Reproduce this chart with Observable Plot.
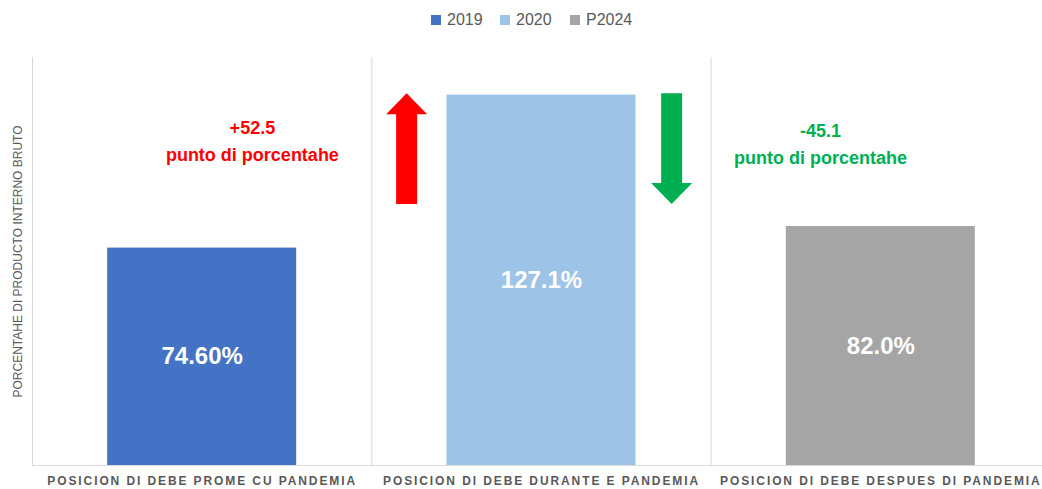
<!DOCTYPE html>
<html>
<head>
<meta charset="utf-8">
<script src="https://cdn.jsdelivr.net/npm/d3@7"></script>
<script src="https://cdn.jsdelivr.net/npm/@observablehq/plot@0.6"></script>
<style>
  html, body { margin: 0; padding: 0; background: #fff; overflow: hidden; }
  body { width: 1042px; height: 489px; font-family: "Liberation Sans", Arial, sans-serif; }
  #legend { position: relative; height: 40px; width: 1042px; }
  .item { position: absolute; top: 11px; display: flex; align-items: center; font-size: 16px; color: #595959; }
  .sw { width: 10px; height: 10px; margin-right: 6px; }
  g[aria-label="x-axis tick label"] text { letter-spacing: 1.9px; }
</style>
</head>
<body>
<div id="legend"></div>
<div id="chart"></div>
<script>
const categories = [
  "POSICION DI DEBE PROME CU PANDEMIA",
  "POSICION DI DEBE DURANTE E PANDEMIA",
  "POSICION DI DEBE DESPUES DI PANDEMIA"
];
const series = ["2019", "2020", "P2024"];
const values = [74.6, 127.1, 82.0];
const valueLabels = ["74.60%", "127.1%", "82.0%"];
const colors = ["#4472C4", "#9DC3E6", "#A5A5A5"];
const changeLabels = ["+52.5", "-45.1"];
const changeNote = "punto di porcentahe";
const changeColors = ["#FF0000", "#00B050"];
const yTitle = "PORCENTAHE DI PRODUCTO INTERNO BRUTO";

// legend
const legendLeft = [431, 500, 570];
const legend = document.getElementById("legend");
series.forEach((s, i) => {
  const d = document.createElement("div");
  d.className = "item";
  d.style.left = legendLeft[i] + "px";
  d.innerHTML = `<span class="sw" style="background:${colors[i]}"></span><span>${s}</span>`;
  legend.appendChild(d);
});

const bars = categories.map((c, i) => ({i, cat: c, series: series[i], value: values[i], label: valueLabels[i]}));
const barFrac = 0.557;

const notes = [
  {label: changeLabels[0], color: changeColors[0], x: 0.648, y: 112.0},
  {label: changeLabels[1], color: changeColors[1], x: 2.322, y: 111.2}
];

const arrows = [
  {x: 1.104, tail: 89.6, tip: 127.6, color: changeColors[0]},
  {x: 1.885, tail: 127.6, tip: 89.6, color: changeColors[1]}
];

function arrowMark(specs) {
  return (index, scales) => {
    const g = d3.create("svg:g");
    for (const a of specs) {
      const xc = scales.x(a.x), yt = scales.y(a.tail), yh = scales.y(a.tip);
      const dir = Math.sign(yh - yt);
      const headLen = 21, sh = 10.5, hh = 20.5;
      const hb = yh - dir * headLen;
      const pts = [[xc - sh, yt], [xc + sh, yt], [xc + sh, hb], [xc + hh, hb], [xc, yh], [xc - hh, hb], [xc - sh, hb]];
      g.append("path").attr("d", "M" + pts.map(p => p.join(",")).join("L") + "Z").attr("fill", a.color);
    }
    return g.node();
  };
}

const chart = Plot.plot({
  width: 1042,
  height: 449,
  marginTop: 17,
  marginBottom: 24,
  marginLeft: 32,
  marginRight: 0,
  style: {fontFamily: "'Liberation Sans', Arial, sans-serif", background: "#fff"},
  x: {domain: [0, 3], range: [32, 1050]},
  y: {domain: [0, 140], axis: null},
  marks: [
    Plot.ruleX([0, 1, 2, 3], {stroke: "#d9d9d9", strokeWidth: 1}),
    Plot.rectY(bars, {
      x1: d => d.i + (1 - barFrac) / 2,
      x2: d => d.i + 1 - (1 - barFrac) / 2,
      y1: 0,
      y2: "value",
      fill: (d) => colors[d.i]
    }),
    Plot.ruleY([0], {stroke: "#d9d9d9", strokeWidth: 1}),
    Plot.text(bars, {
      x: d => d.i + 0.5,
      y: d => d.value / 2,
      text: "label",
      fill: "#fff",
      fontSize: 24,
      fontWeight: "bold"
    }),
    Plot.text(notes, {
      x: "x", y: "y",
      text: d => d.label + "\n" + changeNote,
      fill: d => d.color,
      fontSize: 18,
      fontWeight: "bold",
      lineHeight: 1.5
    }),
    arrowMark(arrows),
    Plot.text([yTitle], {
      frameAnchor: "left",
      textAnchor: "middle",
      rotate: -90,
      dx: -14,
      fontSize: 12,
      fill: "#595959"
    }),
    Plot.axisX({
      ticks: [0.5, 1.5, 2.5],
      tickFormat: v => categories[Math.floor(v)],
      tickSize: 0,
      tickPadding: 11,
      label: null,
      fontSize: 12,
      fontWeight: "bold",
      fill: "#595959"
    })
  ]
});
document.getElementById("chart").appendChild(chart);
</script>
</body>
</html>
